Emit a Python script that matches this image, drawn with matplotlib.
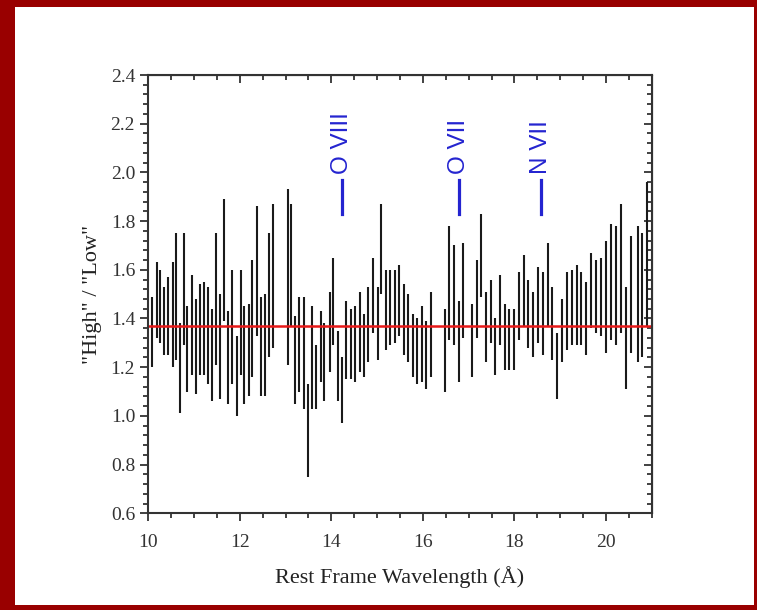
import matplotlib.pyplot as plt
from matplotlib.patches import Rectangle
from matplotlib.ticker import MultipleLocator

# bin centres (rest frame wavelength, A)
wave = [
    10.09, 10.18, 10.26, 10.34, 10.43, 10.53, 10.61, 10.69, 10.77, 10.85,
    10.95, 11.04, 11.12, 11.21, 11.30, 11.40, 11.48, 11.57, 11.66, 11.74,
    11.83, 11.93, 12.02, 12.10, 12.19, 12.27, 12.37, 12.46, 12.55, 12.64, 12.73,
    13.05, 13.11, 13.21, 13.30, 13.40, 13.48, 13.58, 13.67, 13.77, 13.85,
    13.96, 14.04, 14.14, 14.23, 14.32, 14.42, 14.51, 14.62, 14.71, 14.81,
    14.90, 15.01, 15.09, 15.19, 15.28, 15.38, 15.47,
    15.58, 15.68, 15.78, 15.87, 15.97, 16.07, 16.17,
    16.48, 16.57, 16.67, 16.78, 16.87, 17.07, 17.18, 17.28, 17.38, 17.48,
    17.58, 17.69, 17.79, 17.89, 17.99, 18.09, 18.20, 18.30,
    18.41, 18.52, 18.62, 18.73, 18.83, 18.93, 19.03, 19.14, 19.25, 19.36,
    19.46, 19.57, 19.67, 19.78, 19.89, 20.00, 20.10, 20.21, 20.32, 20.43,
    20.54, 20.69, 20.78, 20.89,
]
# upper and lower ends of each error bar
ratio_hi = [
    1.49, 1.63, 1.60, 1.53, 1.57, 1.63, 1.75, 1.38, 1.75, 1.45,
    1.58, 1.48, 1.54, 1.55, 1.53, 1.44, 1.75, 1.50, 1.89, 1.43,
    1.60, 1.33, 1.60, 1.45, 1.46, 1.64, 1.86, 1.49, 1.50, 1.75, 1.87,
    1.93, 1.87, 1.41, 1.49, 1.49, 1.13, 1.45, 1.29, 1.43, 1.38,
    1.51, 1.65, 1.35, 1.24, 1.47, 1.44, 1.45, 1.51, 1.42, 1.53,
    1.65, 1.53, 1.87, 1.60, 1.60, 1.60, 1.62,
    1.54, 1.50, 1.42, 1.40, 1.45, 1.39, 1.51,
    1.44, 1.78, 1.70, 1.47, 1.71, 1.46, 1.64, 1.83, 1.51, 1.56,
    1.40, 1.58, 1.46, 1.44, 1.44, 1.59, 1.66, 1.56,
    1.51, 1.61, 1.59, 1.71, 1.53, 1.34, 1.48, 1.59, 1.60, 1.62,
    1.59, 1.55, 1.67, 1.64, 1.65, 1.72, 1.79, 1.78, 1.87, 1.53,
    1.74, 1.78, 1.75, 1.96,
]
ratio_lo = [
    1.20, 1.32, 1.30, 1.25, 1.25, 1.20, 1.23, 1.01, 1.29, 1.10,
    1.17, 1.09, 1.17, 1.17, 1.13, 1.06, 1.21, 1.07, 1.39, 1.05,
    1.13, 1.00, 1.17, 1.05, 1.08, 1.16, 1.33, 1.08, 1.08, 1.24, 1.28,
    1.21, 1.37, 1.05, 1.10, 1.03, 0.75, 1.03, 1.03, 1.14, 1.06,
    1.18, 1.29, 1.06, 0.97, 1.15, 1.15, 1.14, 1.18, 1.16, 1.22,
    1.34, 1.23, 1.50, 1.27, 1.29, 1.30, 1.33,
    1.25, 1.22, 1.16, 1.13, 1.14, 1.11, 1.16,
    1.10, 1.31, 1.29, 1.14, 1.32, 1.16, 1.32, 1.49, 1.22, 1.30,
    1.17, 1.29, 1.19, 1.19, 1.19, 1.31, 1.37, 1.28,
    1.24, 1.30, 1.25, 1.37, 1.23, 1.07, 1.22, 1.27, 1.29, 1.29,
    1.29, 1.25, 1.36, 1.34, 1.33, 1.26, 1.31, 1.29, 1.34, 1.11,
    1.26, 1.22, 1.24, 1.37,
]
mean_ratio = 1.37

lines = ["O VIII", "O VII", "N VII"]
line_wave = [14.24, 16.78, 18.58]

serif = "Liberation Serif"

fig = plt.figure(figsize=(7.57, 6.10), dpi=100)
fig.patch.set_facecolor("#990000")
fig.add_artist(Rectangle((15 / 757, 5 / 610), 739 / 757, 598 / 610,
                         transform=fig.transFigure, facecolor="white",
                         edgecolor="none", zorder=0))

ax = fig.add_axes([148.3 / 757, 1 - 513.3 / 610, 503.4 / 757, 438.3 / 610])

ax.vlines(wave, ratio_lo, ratio_hi, color="#1a1a1a", linewidth=1.5)
ax.axhline(mean_ratio, color="#e81818", linewidth=1.8)

for name, w in zip(lines, line_wave):
    ax.plot([w, w], [1.83, 1.97], color="#2424d0", linewidth=2.3)
    ax.text(w, 1.995, name, rotation=90, ha="center", va="bottom",
            color="#2424d0", fontsize=17.5, family="Liberation Sans")

ax.set_xlim(10, 21)
ax.set_ylim(0.6, 2.4)
ax.xaxis.set_major_locator(MultipleLocator(2))
ax.xaxis.set_minor_locator(MultipleLocator(0.5))
ax.yaxis.set_major_locator(MultipleLocator(0.2))
ax.yaxis.set_minor_locator(MultipleLocator(0.04))
ax.yaxis.set_major_formatter(lambda v, p: f"{v:.1f}")

ax.tick_params(which="both", direction="out", width=1.3, labelsize=14,
               labelfontfamily=serif, colors="#333333")
ax.tick_params(which="major", length=6)
ax.tick_params(which="minor", length=3.5)
ax.tick_params(axis="x", which="major", pad=9)
for s in ax.spines.values():
    s.set_linewidth(1.5)
    s.set_color("#333333")

# mirrored axes with inward ticks
top = ax.secondary_xaxis("top")
top.xaxis.set_major_locator(MultipleLocator(2))
top.xaxis.set_minor_locator(MultipleLocator(0.5))
top.tick_params(which="both", direction="in", labeltop=False, width=1.3,
                colors="#333333")
top.tick_params(which="major", length=6)
top.tick_params(which="minor", length=3.5)
right = ax.secondary_yaxis("right")
right.yaxis.set_major_locator(MultipleLocator(0.2))
right.yaxis.set_minor_locator(MultipleLocator(0.04))
right.tick_params(which="both", direction="in", labelright=False, width=1.3,
                  colors="#333333")
right.tick_params(which="major", length=6)
right.tick_params(which="minor", length=3.5)

ax.set_xlabel("Rest Frame Wavelength (Å)", family=serif, fontsize=16,
              color="#222222", labelpad=11)
ax.set_ylabel('"High" / "Low"', family=serif, fontsize=16,
              color="#222222", labelpad=6)

fig.savefig("out.png", dpi=100, facecolor=fig.get_facecolor())
